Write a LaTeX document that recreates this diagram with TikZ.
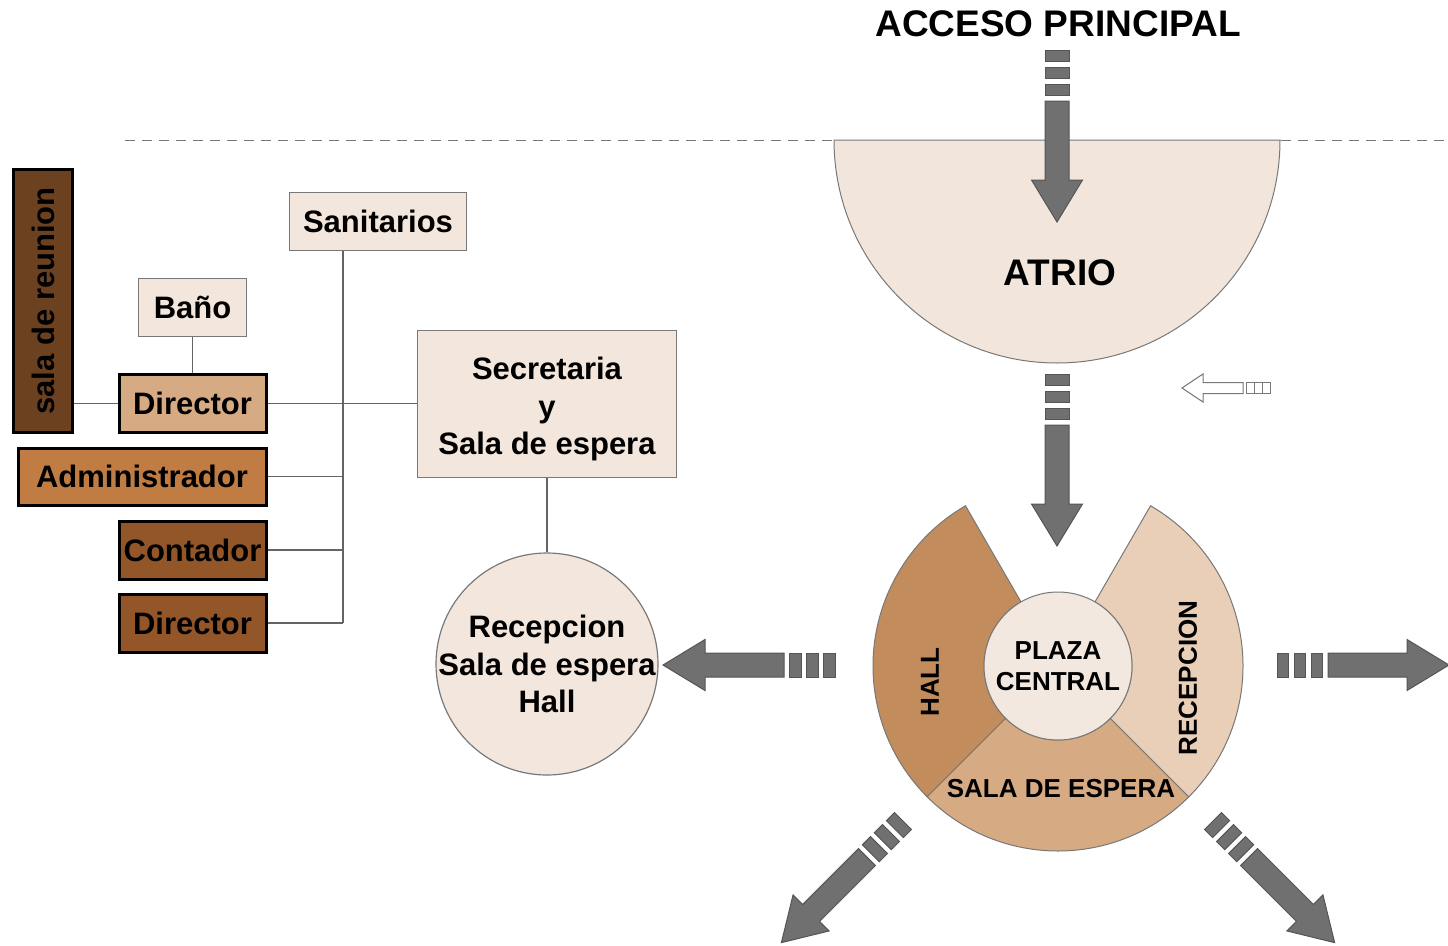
\documentclass[tikz,border=0pt]{standalone}
\usepackage{fontspec}
\setmainfont{Liberation Sans}
\definecolor{paper}{RGB}{243,231,221}
\definecolor{atrioc}{RGB}{242,230,220}
\definecolor{plazac}{RGB}{242,232,224}
\definecolor{hallc}{RGB}{194,140,92}
\definecolor{salac}{RGB}{214,170,130}
\definecolor{recepc}{RGB}{234,207,184}
\definecolor{dirc}{RGB}{214,170,130}
\definecolor{admc}{RGB}{192,124,66}
\definecolor{contc}{RGB}{146,86,40}
\definecolor{reunionc}{RGB}{108,65,32}
\definecolor{linegray}{RGB}{120,120,120}
\definecolor{conngray}{RGB}{100,100,100}
\definecolor{arrowfill}{RGB}{112,112,112}
\definecolor{arrowline}{RGB}{85,85,85}
\newcommand{\stripearrow}[3]{%
  \begin{scope}[shift={(#1,#2)}, rotate=#3]
    \filldraw[arrowst] (0,-12) rectangle (11.5,12);
    \filldraw[arrowst] (17,-12) rectangle (28.5,12);
    \filldraw[arrowst] (34,-12) rectangle (45.5,12);
    \filldraw[arrowst] (51,-12) -- (130,-12) -- (130,-25.5) -- (172,0) -- (130,25.5) -- (130,12) -- (51,12) -- cycle;
  \end{scope}}
\begin{document}
\begin{tikzpicture}[x=1pt,y=-1pt,
  lbl/.style={font=\bfseries\fontsize{31}{37.5}\selectfont, text=black, inner sep=0pt, align=center},
  lightbox/.style={lbl, draw=linegray, line width=1.2pt, fill=paper},
  darkbox/.style={lbl, draw=black, line width=3pt},
  conn/.style={draw=conngray, line width=1.3pt},
  seg/.style={draw=linegray, line width=1pt},
  seglbl/.style={font=\bfseries\fontsize{26}{31}\selectfont, text=black, inner sep=0pt, align=center},
  bigfont/.style={font=\bfseries\fontsize{37}{41}\selectfont, text=black, inner sep=0pt},
  arrowst/.style={fill=arrowfill, draw=arrowline, line width=1pt},
  smallarr/.style={fill=white, draw=linegray, line width=1pt},
  dashline/.style={draw=linegray, line width=1pt, dash pattern=on 10pt off 7pt}]
\useasboundingbox (0,0) rectangle (1448,945);

% dashed boundary
\draw[dashline] (125,140) -- (1448,140);

% left block
\node[darkbox, fill=reunionc, rotate=90, minimum width=263, minimum height=59] (reu) at (43,301) {sala de reunion};
\node[lightbox, minimum width=108, minimum height=58] (bano) at (192.5,307.5) {Baño};
\node[darkbox, fill=dirc, minimum width=147, minimum height=58] (dir1) at (192.5,403.5) {Director};
\node[darkbox, fill=admc, minimum width=248, minimum height=57] (adm) at (142,476.5) {Administrador};
\node[darkbox, fill=contc, minimum width=147, minimum height=58] (cont) at (192.5,550) {Contador};
\node[darkbox, fill=contc, minimum width=147, minimum height=58] (dir2) at (192.5,623) {Director};
\node[lightbox, minimum width=177, minimum height=58] (san) at (378,221.5) {Sanitarios};
\node[lightbox, minimum width=259, minimum height=147,
      label={[lbl, yshift=-5pt]center:{Secretaria\\y\\Sala de espera}}] (sec) at (547,404) {};
\node[lightbox, circle, minimum size=222,
      label={[lbl]center:{Recepcion\\Sala de espera\\Hall}}] (rec) at (547,664) {};

\coordinate (trunk) at (343,622.5);
\draw[conn] (san.south -| trunk) -- (trunk);
\draw[conn] (bano) -- (dir1);
\draw[conn] (dir1.west) -- (dir1.west -| reu.south);
\draw[conn] (dir1.east) -- (dir1.east -| sec.west);
\draw[conn] (adm.east) -- (adm.east -| trunk);
\draw[conn] (cont.east) -- (cont.east -| trunk);
\draw[conn] (dir2.east) -- (dir2.east -| trunk);
\draw[conn] (sec) -- (rec);

% atrio
\draw[seg, fill=atrioc] (834,140) arc[start angle=180, end angle=0, radius=223] -- cycle;
\node[bigfont] (atrio) at (1060,273) {ATRIO};
\node[bigfont] (acc) at (1058,24) {ACCESO PRINCIPAL};

% central ring
\begin{scope}[shift={(1058,666)}]
  \draw[seg, fill=hallc] (-120:185) arc[start angle=-120, end angle=-225, radius=185] -- (-225:74) arc[start angle=-225, end angle=-120, radius=74] -- cycle;
  \draw[seg, fill=salac] (-225:185) arc[start angle=-225, end angle=-315, radius=185] -- (-315:74) arc[start angle=-315, end angle=-225, radius=74] -- cycle;
  \draw[seg, fill=recepc] (45:185) arc[start angle=45, end angle=-60, radius=185] -- (-60:74) arc[start angle=-60, end angle=45, radius=74] -- cycle;
\end{scope}
\node[seg, circle, fill=plazac, minimum size=148, seglbl] (plaza) at (1058,666) {PLAZA\\CENTRAL};
\node[seglbl, rotate=90] (hall) at (930,682) {HALL};
\node[seglbl, rotate=90] (recep) at (1188,678) {RECEPCION};
\node[seglbl] (sala) at (1061,789) {SALA DE ESPERA};

% arrows
\stripearrow{1057}{50}{-90}
\stripearrow{1057}{374}{-90}
\stripearrow{835}{665}{180}
\stripearrow{1277}{665}{0}
\stripearrow{903}{821}{-135}
\stripearrow{1213}{821}{-45}

% small outline arrow
\begin{scope}[shift={(1270,388)}, rotate=180]
  \draw[smallarr] (0,-5.5) rectangle (8,5.5);
  \draw[smallarr] (8,-5.5) rectangle (16,5.5);
  \draw[smallarr] (16,-5.5) rectangle (24,5.5);
  \draw[smallarr] (27,-5.5) -- (67,-5.5) -- (67,-14) -- (88,0) -- (67,14) -- (67,5.5) -- (27,5.5) -- cycle;
\end{scope}
\end{tikzpicture}
\end{document}
